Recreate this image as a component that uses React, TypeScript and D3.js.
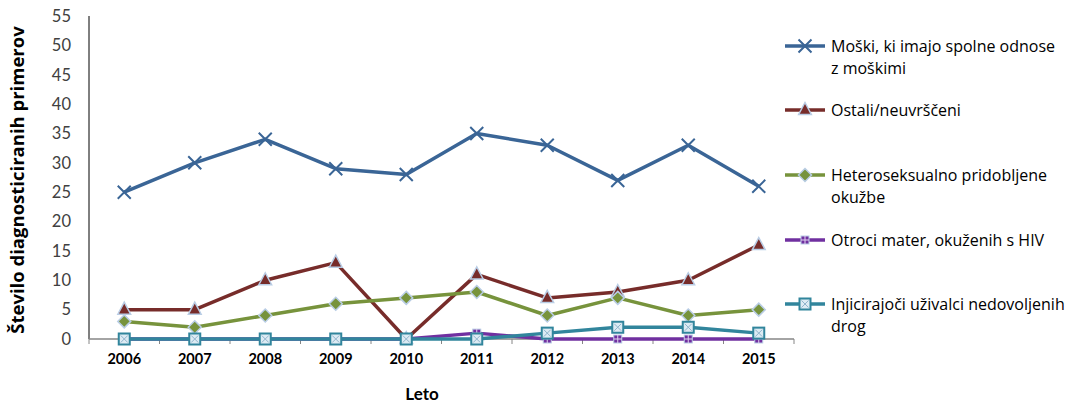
import React from "react";
import * as d3 from "d3";

const years = ["2006", "2007", "2008", "2009", "2010", "2011", "2012", "2013", "2014", "2015"];
const msm = [25, 30, 34, 29, 28, 35, 33, 27, 33, 26];
const ostali = [5, 5, 10, 13, 0, 11, 7, 8, 10, 16];
const hetero = [3, 2, 4, 6, 7, 8, 4, 7, 4, 5];
const otroci = [0, 0, 0, 0, 0, 1, 0, 0, 0, 0];
const idu = [0, 0, 0, 0, 0, 0, 1, 2, 2, 1];
const yTicks = [0, 5, 10, 15, 20, 25, 30, 35, 40, 45, 50, 55];

const series = [
  { name: ["Moški, ki imajo spolne odnose", "z moškimi"], values: msm, color: "#3A6596", marker: "x" },
  { name: ["Ostali/neuvrščeni"], values: ostali, color: "#772C2A", marker: "tri" },
  { name: ["Heteroseksualno pridobljene", "okužbe"], values: hetero, color: "#77933C", marker: "dia" },
  { name: ["Otroci mater, okuženih s HIV"], values: otroci, color: "#7030A0", marker: "plus" },
  { name: ["Injicirajoči uživalci nedovoljenih", "drog"], values: idu, color: "#31859C", marker: "sq" },
];
const legendY = [46, 110, 175, 240, 304];

const font = "Lato, 'Open Sans', sans-serif";
const font2 = "'Open Sans', sans-serif";

function Marker({ type, x, y, color }: { type: string; x: number; y: number; color: string }) {
  if (type === "x") {
    const s = 6.5;
    return (
      <path d={`M${x - s},${y - s}L${x + s},${y + s}M${x - s},${y + s}L${x + s},${y - s}`} stroke={color} strokeWidth={2} fill="none" />
    );
  }
  if (type === "tri") {
    const s = 7.5;
    return (
      <path d={`M${x},${y - s}L${x + s * 0.85},${y + s * 0.6}L${x - s * 0.85},${y + s * 0.6}Z`} fill={color} stroke="#B9CDE5" strokeWidth={1.5} />
    );
  }
  if (type === "dia") {
    const s = 6.5;
    return <path d={`M${x},${y - s}L${x + s},${y}L${x},${y + s}L${x - s},${y}Z`} fill={color} stroke="#B9CDE5" strokeWidth={1.5} />;
  }
  if (type === "plus") {
    const s = 4;
    return (
      <g>
        <rect x={x - s} y={y - s} width={2 * s} height={2 * s} fill={color} stroke="#B9CDE5" strokeWidth={1} />
        <path d={`M${x - s},${y}L${x + s},${y}M${x},${y - s}L${x},${y + s}`} stroke="#E0D0F0" strokeWidth={1} />
      </g>
    );
  }
  const s = 5.5;
  return (
    <g>
      <rect x={x - s} y={y - s} width={2 * s} height={2 * s} fill="#DDEBF3" stroke={color} strokeWidth={2} />
      <path d={`M${x - s + 2},${y - s + 2}L${x + s - 2},${y + s - 2}M${x - s + 2},${y + s - 2}L${x + s - 2},${y - s + 2}`} stroke="#8FB4CC" strokeWidth={1} />
    </g>
  );
}

export default function App() {
  const W = 1071, H = 405;
  const left = 89, right = 794, top = 16, bottom = 339;
  const x = d3.scaleBand<string>().domain(years).range([left, right]);
  const y = d3.scaleLinear().domain([0, 55]).range([bottom, top]);
  const cx = (yr: string) => (x(yr) as number) + x.bandwidth() / 2;
  const line = d3.line<number>().x((_, i) => cx(years[i])).y((v) => y(v));

  return (
    <svg width={W} height={H} style={{ position: "absolute", left: 0, top: 0, background: "#fff" }}>
      <line x1={left} x2={left} y1={top} y2={bottom} stroke="#000" strokeWidth={1} />
      {yTicks.map((t) => (
        <text key={t} x={71} y={y(t)} dy="0.35em" textAnchor="end" fontFamily={font} fontSize={16.5} fill="#404040">
          {t}
        </text>
      ))}
      <line x1={left} x2={right} y1={bottom} y2={bottom} stroke="#868686" strokeWidth={1.5} />
      {years.concat(["end"]).map((yr, i) => {
        const xx = left + i * x.bandwidth();
        return <line key={yr} x1={xx} x2={xx} y1={bottom} y2={bottom + 5} stroke="#868686" strokeWidth={1} />;
      })}
      {years.map((yr) => (
        <text key={yr} x={cx(yr)} y={364} textAnchor="middle" fontFamily={font} fontSize={14.5} fontWeight="bold" fill="#000">
          {yr}
        </text>
      ))}
      <text x={422} y={400} textAnchor="middle" fontFamily={font} fontSize={17} fontWeight="bold">
        Leto
      </text>
      <text transform={`translate(24,180) rotate(-90)`} textAnchor="middle" fontFamily={font2} fontSize={18.5} fontWeight="bold">
        Število diagnosticiranih  primerov
      </text>
      {series.map((s) => (
        <g key={s.name[0]}>
          <path d={line(s.values) as string} fill="none" stroke={s.color} strokeWidth={3.5} strokeLinejoin="round" />
          {s.values.map((v, i) => (
            <Marker key={i} type={s.marker} x={cx(years[i])} y={y(v)} color={s.color} />
          ))}
        </g>
      ))}
      {series.map((s, k) => (
        <g key={"lg" + k}>
          <line x1={785} x2={825} y1={legendY[k]} y2={legendY[k]} stroke={s.color} strokeWidth={3.5} />
          <Marker type={s.marker} x={805} y={legendY[k]} color={s.color} />
          {s.name.map((n, j) => (
            <text key={j} x={831} y={legendY[k] + j * 22} dy="0.35em" fontFamily={font2} fontSize={16} fill="#000">
              {n}
            </text>
          ))}
        </g>
      ))}
    </svg>
  );
}
